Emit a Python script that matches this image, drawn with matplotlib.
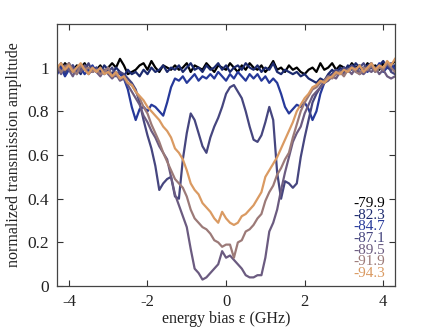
import numpy as np
import matplotlib
matplotlib.use("Agg")
import matplotlib.pyplot as plt

plt.rcParams['font.family'] = ['Liberation Serif', 'DejaVu Serif']
plt.rcParams['axes.unicode_minus'] = False

# energy bias grid (GHz)
x = np.round(np.arange(-4.3, 4.3001, 0.1), 2)

power_labels = ["-79.9", "-82.3", "-84.7", "-87.1", "-89.5", "-91.9", "-94.3"]
colors = ["#000000", "#1c2a6e", "#26399a", "#46467f", "#6b5b80", "#9c7a78", "#da9a62"]

y_799 = [1.01,0.99,1.02,1.00,0.98,1.01,1.00,1.02,0.99,1.00,
         0.99,1.01,0.98,1.00,1.02,1.00,1.04,1.01,0.97,0.98,
         0.99,1.01,1.02,0.99,1.03,1.00,0.98,1.01,1.00,0.99,
         1.01,0.99,1.00,1.02,0.98,1.01,1.00,0.99,1.02,1.00,
         0.98,1.01,1.00,0.99,1.02,1.00,0.98,1.01,0.99,1.02,
         1.00,0.99,1.01,0.98,1.00,1.03,0.99,1.00,0.98,1.01,
         0.99,1.00,0.98,0.97,0.99,1.00,0.98,1.02,0.99,1.00,
         1.02,0.99,1.01,1.00,0.99,1.02,1.00,1.01,0.99,1.02,
         1.00,1.01,0.99,1.02,1.00,1.01,1.03]
y_823 = [0.98,1.01,0.97,1.02,0.99,1.00,0.97,1.01,0.99,0.98,
         1.00,0.98,1.01,0.99,0.97,1.00,0.98,0.96,0.99,0.97,
         0.98,0.96,0.99,0.97,1.00,0.98,0.99,1.01,0.98,1.00,
         0.99,1.01,0.98,1.00,1.02,0.99,1.00,0.98,1.01,0.99,
         1.00,1.02,0.99,1.01,0.98,1.00,1.01,0.99,1.02,1.00,
         0.99,1.01,0.98,1.00,0.99,1.02,0.98,0.97,0.99,0.98,
         0.97,0.98,0.96,0.97,0.95,0.94,0.93,0.95,0.94,0.97,
         0.99,0.97,1.00,0.98,1.01,0.99,1.02,1.00,0.98,1.01,
         1.02,0.99,1.01,1.03,1.00,0.99,1.01]
y_847 = [0.97,1.00,0.96,0.99,1.01,0.98,1.00,0.97,0.99,1.01,
         0.98,1.00,0.97,0.99,0.96,0.98,0.97,0.95,0.90,0.82,
         0.76,0.81,0.82,0.80,0.83,0.82,0.80,0.78,0.84,0.91,
         0.95,0.94,0.96,0.93,0.95,0.97,0.94,0.96,0.95,0.97,
         0.95,0.98,0.96,0.94,0.97,0.95,0.98,0.96,0.94,0.97,
         0.95,0.97,0.94,0.96,0.93,0.95,0.93,0.88,0.82,0.79,
         0.81,0.83,0.82,0.84,0.81,0.76,0.80,0.88,0.93,0.96,
         0.97,0.99,0.97,1.00,0.98,1.01,0.99,0.97,1.00,0.98,
         1.01,0.99,1.02,0.98,1.00,1.02,0.99]
y_871 = [0.99,1.02,0.98,1.00,1.01,0.97,1.00,0.99,1.02,0.98,
         1.00,0.97,0.99,0.98,1.00,0.96,0.98,0.97,0.95,0.93,
         0.90,0.84,0.76,0.69,0.63,0.55,0.44,0.47,0.49,0.50,
         0.41,0.40,0.58,0.70,0.79,0.76,0.70,0.64,0.61,0.68,
         0.73,0.77,0.82,0.88,0.91,0.92,0.89,0.86,0.80,0.73,
         0.67,0.66,0.69,0.75,0.82,0.76,0.52,0.40,0.48,0.47,
         0.45,0.47,0.59,0.68,0.76,0.84,0.88,0.91,0.94,0.96,
         0.97,0.99,0.98,1.00,0.99,1.01,0.98,1.00,1.02,0.99,
         1.00,0.98,1.01,0.99,1.02,0.98,0.97]
y_895 = [1.00,0.97,1.01,0.99,0.96,1.00,0.98,1.01,0.97,0.99,
         0.98,0.96,0.99,0.97,0.95,0.97,0.94,0.95,0.92,0.89,
         0.86,0.83,0.78,0.75,0.71,0.68,0.64,0.61,0.58,0.50,
         0.42,0.37,0.32,0.27,0.17,0.08,0.06,0.03,0.04,0.06,
         0.08,0.10,0.16,0.13,0.14,0.12,0.10,0.08,0.05,0.04,
         0.04,0.05,0.05,0.13,0.25,0.29,0.35,0.44,0.52,0.59,
         0.66,0.70,0.73,0.79,0.83,0.87,0.89,0.91,0.93,0.94,
         0.96,0.95,0.98,0.97,0.99,0.97,1.00,0.98,0.97,0.99,
         0.98,1.00,0.97,0.99,0.96,0.95,0.96]
y_919 = [1.01,0.98,1.00,1.02,0.99,0.97,1.01,0.99,1.00,0.98,
         0.99,0.97,0.98,1.00,0.96,0.97,0.95,0.96,0.93,0.92,
         0.89,0.86,0.82,0.79,0.74,0.70,0.66,0.61,0.57,0.53,
         0.49,0.47,0.45,0.41,0.35,0.31,0.29,0.27,0.26,0.24,
         0.21,0.20,0.18,0.19,0.19,0.13,0.20,0.21,0.25,0.26,
         0.28,0.31,0.33,0.39,0.43,0.46,0.51,0.54,0.58,0.61,
         0.68,0.74,0.80,0.84,0.87,0.90,0.91,0.93,0.94,0.96,
         0.95,0.97,0.98,0.96,0.99,1.00,0.98,0.97,1.00,0.99,
         1.01,0.98,1.00,0.99,1.02,1.00,0.98]
y_943 = [1.00,1.02,0.99,1.01,0.98,1.00,1.02,0.99,0.97,1.00,
         0.98,1.00,0.97,0.98,0.96,0.98,0.95,0.96,0.93,0.92,
         0.89,0.87,0.85,0.82,0.80,0.78,0.76,0.73,0.71,0.68,
         0.63,0.61,0.58,0.53,0.47,0.44,0.42,0.38,0.36,0.34,
         0.31,0.29,0.34,0.31,0.29,0.28,0.29,0.32,0.33,0.35,
         0.37,0.40,0.43,0.50,0.53,0.56,0.59,0.63,0.67,0.71,
         0.75,0.80,0.83,0.86,0.88,0.91,0.92,0.94,0.93,0.95,
         0.96,0.98,0.97,0.99,0.98,1.00,0.99,1.01,0.98,1.00,
         1.02,0.99,1.01,1.00,1.03,1.01,1.04]

series = [y_799, y_823, y_847, y_871, y_895, y_919, y_943]

fig = plt.figure(figsize=(4.36, 3.27), dpi=100)
ax = fig.add_axes([0.131, 0.125, 0.775, 0.802])

for ys, c in zip(series, colors):
    ax.plot(x, ys, color=c, lw=1.6, solid_joinstyle='round')

ax.set_xlim(-4.3, 4.3)
ax.set_ylim(0, 1.2)
ax.set_xticks([-4, -2, 0, 2, 4])
ax.set_xticklabels(["-4", "-2", "0", "2", "4"])
ax.set_yticks([0, 0.2, 0.4, 0.6, 0.8, 1.0])
ax.set_yticklabels(["0", "0.2", "0.4", "0.6", "0.8", "1"])
ax.tick_params(direction='in', top=True, right=True, length=4, width=0.8,
               labelsize=12.5, colors='#333333', labelcolor='#222222')
ax.tick_params(axis='x', pad=6, labelsize=12)
ax.tick_params(axis='y', pad=6)
for sp in ax.spines.values():
    sp.set_color('#444444')
    sp.set_linewidth(0.9)

ax.set_xlabel("energy bias ε (GHz)", fontsize=11.5, color='#222222', labelpad=0.5)
ax.set_ylabel("normalized transmission amplitude", fontsize=11.5, color='#222222', labelpad=4)

for k, (lab, c) in enumerate(zip(power_labels, colors)):
    ax.text(0.972, 0.315 - k * 0.0446, lab, color=c, fontsize=11,
            ha='right', va='center', transform=ax.transAxes)

fig.savefig("out.png", dpi=100)
